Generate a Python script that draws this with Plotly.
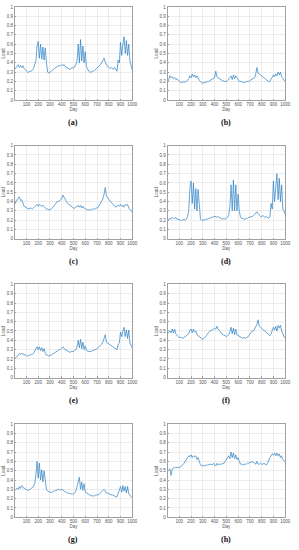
import plotly.graph_objects as go

# Days sampled every 10 days
DAYS = list(range(0, 1001, 10))

LOAD_A = [0.33,0.35,0.36,0.38,0.35,0.37,0.35,0.37,0.34,0.32,
          0.31,0.30,0.30,0.31,0.31,0.32,0.34,0.38,0.42,0.58,
          0.63,0.45,0.60,0.44,0.57,0.43,0.56,0.40,0.30,0.29,
          0.30,0.30,0.31,0.32,0.34,0.35,0.36,0.37,0.37,0.37,
          0.38,0.37,0.38,0.36,0.35,0.34,0.33,0.33,0.34,0.35,
          0.34,0.36,0.38,0.42,0.60,0.40,0.65,0.42,0.58,0.40,
          0.52,0.36,0.33,0.31,0.30,0.30,0.31,0.31,0.32,0.33,
          0.34,0.35,0.37,0.38,0.40,0.42,0.45,0.41,0.38,0.36,
          0.35,0.34,0.35,0.34,0.33,0.35,0.32,0.31,0.43,0.40,
          0.62,0.48,0.60,0.68,0.50,0.64,0.48,0.60,0.42,0.36,
          0.32]

LOAD_B = [0.20,0.22,0.26,0.24,0.25,0.23,0.24,0.22,0.23,0.21,
          0.20,0.19,0.19,0.19,0.20,0.19,0.20,0.21,0.23,0.26,
          0.24,0.28,0.25,0.27,0.24,0.26,0.23,0.21,0.20,0.19,
          0.18,0.19,0.19,0.19,0.20,0.20,0.21,0.22,0.22,0.23,
          0.24,0.31,0.25,0.24,0.23,0.22,0.21,0.20,0.20,0.20,
          0.20,0.21,0.22,0.24,0.26,0.22,0.27,0.23,0.26,0.24,
          0.21,0.20,0.20,0.20,0.19,0.19,0.19,0.20,0.20,0.20,
          0.21,0.22,0.22,0.23,0.24,0.28,0.35,0.29,0.28,0.26,
          0.25,0.24,0.23,0.22,0.21,0.21,0.20,0.20,0.22,0.24,
          0.27,0.25,0.28,0.26,0.30,0.27,0.30,0.25,0.23,0.21,
          0.20]

LOAD_C = [0.37,0.40,0.42,0.44,0.45,0.41,0.42,0.37,0.35,0.34,
          0.33,0.33,0.32,0.33,0.33,0.32,0.33,0.34,0.35,0.37,
          0.35,0.37,0.36,0.35,0.36,0.34,0.33,0.32,0.32,0.31,
          0.31,0.32,0.33,0.34,0.36,0.38,0.40,0.40,0.41,0.41,
          0.43,0.47,0.44,0.42,0.40,0.38,0.37,0.35,0.34,0.33,
          0.33,0.33,0.34,0.35,0.36,0.34,0.36,0.33,0.35,0.33,
          0.32,0.32,0.31,0.31,0.31,0.31,0.32,0.32,0.32,0.33,
          0.33,0.34,0.36,0.38,0.41,0.43,0.48,0.55,0.46,0.44,
          0.43,0.41,0.39,0.38,0.36,0.35,0.34,0.35,0.36,0.35,
          0.37,0.35,0.36,0.34,0.37,0.36,0.37,0.33,0.31,0.30,
          0.29]

LOAD_D = [0.20,0.21,0.22,0.21,0.23,0.22,0.22,0.23,0.21,0.21,
          0.20,0.20,0.20,0.20,0.21,0.20,0.21,0.24,0.30,0.55,
          0.62,0.38,0.60,0.32,0.54,0.30,0.53,0.30,0.21,0.20,
          0.20,0.20,0.21,0.21,0.21,0.22,0.22,0.23,0.23,0.24,
          0.24,0.24,0.23,0.24,0.23,0.22,0.22,0.21,0.22,0.21,
          0.22,0.23,0.25,0.35,0.58,0.30,0.63,0.30,0.58,0.30,
          0.48,0.30,0.23,0.22,0.22,0.21,0.21,0.22,0.22,0.23,
          0.23,0.24,0.24,0.25,0.26,0.27,0.29,0.27,0.25,0.24,
          0.24,0.25,0.24,0.23,0.24,0.23,0.22,0.24,0.38,0.32,
          0.62,0.40,0.60,0.70,0.42,0.65,0.40,0.58,0.32,0.30,
          0.26]

LOAD_E = [0.20,0.21,0.23,0.24,0.26,0.25,0.26,0.25,0.25,0.24,
          0.24,0.23,0.24,0.24,0.25,0.25,0.26,0.28,0.31,0.33,
          0.30,0.33,0.29,0.32,0.28,0.31,0.26,0.24,0.24,0.23,
          0.24,0.24,0.25,0.26,0.27,0.28,0.29,0.29,0.30,0.30,
          0.31,0.33,0.31,0.30,0.29,0.28,0.28,0.27,0.28,0.28,
          0.28,0.29,0.30,0.33,0.40,0.32,0.41,0.31,0.38,0.30,
          0.34,0.29,0.28,0.28,0.28,0.28,0.29,0.29,0.30,0.30,
          0.31,0.32,0.33,0.34,0.36,0.38,0.42,0.46,0.38,0.37,
          0.36,0.35,0.34,0.33,0.33,0.32,0.31,0.30,0.36,0.37,
          0.49,0.44,0.50,0.54,0.44,0.51,0.42,0.51,0.37,0.35,
          0.32]

LOAD_F = [0.47,0.49,0.50,0.48,0.52,0.48,0.52,0.47,0.45,0.44,
          0.43,0.43,0.43,0.42,0.43,0.43,0.44,0.45,0.47,0.51,
          0.52,0.48,0.52,0.49,0.50,0.46,0.45,0.43,0.42,0.41,
          0.41,0.42,0.43,0.45,0.47,0.49,0.50,0.51,0.51,0.52,
          0.53,0.52,0.55,0.52,0.51,0.49,0.47,0.46,0.45,0.44,
          0.44,0.45,0.46,0.49,0.54,0.47,0.53,0.46,0.52,0.46,
          0.45,0.44,0.43,0.43,0.42,0.43,0.42,0.43,0.43,0.45,
          0.47,0.48,0.50,0.50,0.52,0.54,0.57,0.62,0.55,0.54,
          0.53,0.52,0.51,0.50,0.48,0.47,0.46,0.45,0.47,0.50,
          0.54,0.51,0.55,0.50,0.56,0.53,0.56,0.50,0.46,0.44,
          0.42]

LOAD_G = [0.29,0.30,0.31,0.30,0.33,0.31,0.34,0.32,0.31,0.30,
          0.29,0.29,0.29,0.30,0.30,0.31,0.33,0.36,0.45,0.60,
          0.42,0.58,0.40,0.51,0.38,0.50,0.36,0.30,0.28,0.27,
          0.27,0.27,0.27,0.28,0.28,0.29,0.29,0.30,0.30,0.29,
          0.30,0.29,0.28,0.27,0.27,0.26,0.26,0.25,0.25,0.25,
          0.25,0.26,0.28,0.33,0.38,0.43,0.30,0.38,0.29,0.36,
          0.27,0.26,0.25,0.24,0.24,0.23,0.23,0.23,0.23,0.24,
          0.24,0.24,0.25,0.26,0.27,0.28,0.30,0.28,0.26,0.26,
          0.25,0.25,0.24,0.24,0.23,0.23,0.22,0.22,0.26,0.28,
          0.33,0.27,0.34,0.28,0.33,0.26,0.33,0.25,0.24,0.22,
          0.21]

LOAD_H = [0.49,0.51,0.52,0.45,0.52,0.53,0.53,0.54,0.53,0.54,
          0.53,0.54,0.55,0.56,0.58,0.60,0.62,0.64,0.66,0.65,
          0.67,0.64,0.66,0.65,0.66,0.62,0.64,0.60,0.56,0.55,
          0.56,0.55,0.56,0.56,0.56,0.57,0.57,0.57,0.56,0.58,
          0.57,0.55,0.58,0.56,0.57,0.57,0.57,0.58,0.58,0.60,
          0.62,0.64,0.66,0.63,0.70,0.64,0.69,0.63,0.67,0.62,
          0.64,0.60,0.57,0.57,0.56,0.57,0.57,0.57,0.58,0.58,
          0.59,0.59,0.60,0.59,0.58,0.57,0.60,0.57,0.57,0.58,
          0.57,0.57,0.58,0.57,0.56,0.58,0.62,0.64,0.66,0.68,
          0.67,0.69,0.66,0.69,0.66,0.68,0.64,0.66,0.62,0.61,
          0.60]

SERIES = [LOAD_A, LOAD_B, LOAD_C, LOAD_D, LOAD_E, LOAD_F, LOAD_G, LOAD_H]
CAPTIONS = ["(a)", "(b)", "(c)", "(d)", "(e)", "(f)", "(g)", "(h)"]
X_TICKS = [100, 200, 300, 400, 500, 600, 700, 800, 900, 1000]
Y_TICKS = [0, 0.1, 0.2, 0.3, 0.4, 0.5, 0.6, 0.7, 0.8, 0.9, 1]
Y_TICK_TEXT = ["0", "0.1", "0.2", "0.3", "0.4", "0.5", "0.6", "0.7", "0.8", "0.9", "1"]

W, H = 299, 550
COLS = [(15, 135), (171, 291)]          # pixel left/right of plot areas
ROWS = [(5, 99), (145, 239), (285, 379), (426, 520)]  # pixel top/bottom
CAP_Y = [122, 262, 402, 542]

fig = go.Figure()
annotations = []
FONT = "Liberation Sans"
GRID = "#ececec"
AXL = "#a0a0a0"
TXT = "#555555"

for i, (vals, cap) in enumerate(zip(SERIES, CAPTIONS)):
    r, c = divmod(i, 2)
    xl, xr = COLS[c]
    yt, yb = ROWS[r]
    n = i + 1
    xa = "x" if n == 1 else f"x{n}"
    ya = "y" if n == 1 else f"y{n}"
    fig.add_trace(go.Scatter(x=DAYS, y=vals, mode="lines",
                             line=dict(color="#2a7fc4", width=0.7),
                             xaxis=xa, yaxis=ya, showlegend=False,
                             hoverinfo="skip"))
    xkey = "xaxis" if n == 1 else f"xaxis{n}"
    ykey = "yaxis" if n == 1 else f"yaxis{n}"
    fig.layout[xkey] = dict(
        domain=[xl / W, xr / W], anchor=ya, range=[0, 1000],
        tickvals=X_TICKS, ticks="inside", ticklen=1.5, tickwidth=0.5,
        tickcolor=AXL, tickfont=dict(size=4.5, family=FONT, color=TXT),
        ticklabeloverflow="allow",
        showgrid=True, gridcolor=GRID, gridwidth=0.5,
        showline=True, linecolor=AXL, linewidth=0.6, mirror=True,
        zeroline=False,
        title=dict(text="Day", font=dict(size=4.5, family=FONT, color=TXT),
                   standoff=1),
    )
    fig.layout[ykey] = dict(
        domain=[1 - yb / H, 1 - yt / H], anchor=xa, range=[0, 1],
        tickvals=Y_TICKS, ticktext=Y_TICK_TEXT, ticks="inside", ticklen=1.5,
        tickwidth=0.5, tickcolor=AXL,
        tickfont=dict(size=4.5, family=FONT, color=TXT),
        ticklabeloverflow="allow",
        showgrid=True, gridcolor=GRID, gridwidth=0.5,
        showline=True, linecolor=AXL, linewidth=0.6, mirror=True,
        zeroline=False,
        title=dict(text="Load", font=dict(size=4.5, family=FONT, color=TXT),
                   standoff=1),
    )
    annotations.append(dict(
        text=f"<b>{cap}</b>", x=(xl + xr) / 2 / W, y=1 - CAP_Y[r] / H,
        xref="paper", yref="paper", xanchor="center", yanchor="middle",
        showarrow=False, font=dict(size=8, family="Liberation Serif", color="#111"),
    ))

fig.update_layout(
    width=W, height=H, margin=dict(l=0, r=0, t=0, b=0),
    paper_bgcolor="white", plot_bgcolor="white",
    annotations=annotations,
)

fig.write_html("out.html", config={"displayModeBar": False},
               post_script="document.body.style.margin='0px';document.body.style.overflow='hidden';")
